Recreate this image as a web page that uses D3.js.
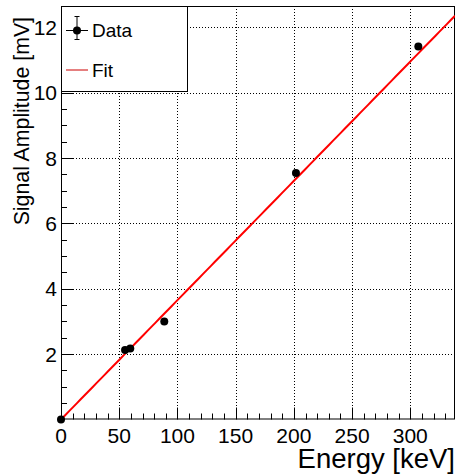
<!DOCTYPE html>
<html>
<head>
<meta charset="utf-8">
<script src="https://cdn.jsdelivr.net/npm/d3@7"></script>
<style>
  html, body { margin: 0; padding: 0; background: #fff; }
  svg { display: block; font-family: "Liberation Sans", Arial, Helvetica, sans-serif; }
</style>
</head>
<body>
<svg id="chart" width="462" height="475"></svg>
<script>
// ---- data ----
const energies = [0, 55, 59.5, 88.7, 201.8, 306.9];        // keV
const amplitudes = [0.0, 2.13, 2.17, 3.0, 7.54, 11.41];   // mV
const amplitudeErrors = [0.03, 0.05, 0.05, 0.09, 0.05, 0.05];
const fitParams = [0.0, 0.0365];                          // intercept, slope
const xTickValues = [0, 50, 100, 150, 200, 250, 300];
const yTickValues = [2, 4, 6, 8, 10, 12];
const xDomain = [0, 338.4];
const yDomain = [0, 12.65];
const legendLabels = ["Data", "Fit"];

// ---- layout ----
const svg = d3.select("#chart");
const L = 61, R = 455, T = 6, B = 419.5;
const x = d3.scaleLinear().domain(xDomain).range([L, R]);
const y = d3.scaleLinear().domain(yDomain).range([B, T]);

// grid
const grid = svg.append("g").attr("stroke", "#000").attr("stroke-width", 1)
  .attr("stroke-dasharray", "1,2");
grid.selectAll(".gx").data(xTickValues.filter(v => v > xDomain[0]))
  .enter().append("line")
  .attr("x1", d => Math.round(x(d)) + 0.5).attr("x2", d => Math.round(x(d)) + 0.5)
  .attr("y1", T).attr("y2", B);
grid.selectAll(".gy").data(yTickValues)
  .enter().append("line")
  .attr("y1", d => Math.round(y(d)) + 0.5).attr("y2", d => Math.round(y(d)) + 0.5)
  .attr("x1", L).attr("x2", R);

// frame
svg.append("rect").attr("x", L + 0.5).attr("y", T + 0.5)
  .attr("width", R - L - 1).attr("height", B - T - 1)
  .attr("fill", "none").attr("stroke", "#000").attr("stroke-width", 1);

// x axis ticks
const xMinor = d3.range(xDomain[0], xDomain[1], 10);
svg.append("g").selectAll("line").data(xMinor).enter().append("line")
  .attr("x1", d => Math.round(x(d)) + 0.5).attr("x2", d => Math.round(x(d)) + 0.5)
  .attr("y1", B).attr("y2", d => B - (d % 50 === 0 ? 12 : 6))
  .attr("stroke", "#000").attr("stroke-width", 1);
svg.append("g").selectAll("text").data(xTickValues).enter().append("text")
  .attr("x", d => x(d)).attr("y", 443)
  .attr("text-anchor", "middle").attr("font-size", 21).text(d => d);

// y axis ticks
const yMinor = d3.range(0.5, yDomain[1], 0.5);
svg.append("g").selectAll("line").data(yMinor).enter().append("line")
  .attr("y1", d => Math.round(y(d)) + 0.5).attr("y2", d => Math.round(y(d)) + 0.5)
  .attr("x1", L).attr("x2", d => L + (d % 2 === 0 ? 12 : 6))
  .attr("stroke", "#000").attr("stroke-width", 1);
svg.append("g").selectAll("text").data(yTickValues).enter().append("text")
  .attr("x", 57).attr("y", d => y(d)).attr("dy", "0.36em")
  .attr("text-anchor", "end").attr("font-size", 21).text(d => d);

// axis titles
svg.append("text").attr("x", R).attr("y", 468).attr("text-anchor", "end")
  .attr("font-size", 27.5).text("Energy [keV]");
svg.append("text").attr("transform", "translate(28.5,17) rotate(-90)")
  .attr("text-anchor", "end").attr("font-size", 21.3).text("Signal Amplitude [mV]");

// fit line
const fitX = d3.range(0, 101).map(i => xDomain[0] + (xDomain[1] - xDomain[0]) * i / 100);
const fitLine = d3.line().x(d => x(d)).y(d => y(fitParams[0] + fitParams[1] * d));
svg.append("clipPath").attr("id", "clipFrame").append("rect")
  .attr("x", L).attr("y", T).attr("width", R - L).attr("height", B - T);
svg.append("path").datum(fitX).attr("d", fitLine)
  .attr("clip-path", "url(#clipFrame)")
  .attr("fill", "none").attr("stroke", "#ff0000").attr("stroke-width", 2);

// data points
const pts = energies.map((e, i) => ({ e, a: amplitudes[i], err: amplitudeErrors[i] }));
const pg = svg.append("g");
pg.selectAll("line").data(pts).enter().append("line")
  .attr("x1", d => x(d.e)).attr("x2", d => x(d.e))
  .attr("y1", d => y(d.a - d.err)).attr("y2", d => y(d.a + d.err))
  .attr("stroke", "#000").attr("stroke-width", 1);
pg.selectAll("circle").data(pts).enter().append("circle")
  .attr("cx", d => x(d.e)).attr("cy", d => y(d.a)).attr("r", 4)
  .attr("fill", "#000");

// legend
const lg = svg.append("g");
lg.append("rect").attr("x", L + 0.5).attr("y", T + 0.5).attr("width", 126).attr("height", 85)
  .attr("fill", "#fff").attr("stroke", "#000").attr("stroke-width", 1);
// data entry
lg.append("line").attr("x1", 66).attr("x2", 88).attr("y1", 30.5).attr("y2", 30.5)
  .attr("stroke", "#000").attr("stroke-width", 1);
lg.append("line").attr("x1", 77).attr("x2", 77).attr("y1", 16).attr("y2", 40)
  .attr("stroke", "#000").attr("stroke-width", 1);
lg.append("line").attr("x1", 74.5).attr("x2", 79.5).attr("y1", 16.5).attr("y2", 16.5)
  .attr("stroke", "#000").attr("stroke-width", 1);
lg.append("line").attr("x1", 74.5).attr("x2", 79.5).attr("y1", 39.5).attr("y2", 39.5)
  .attr("stroke", "#000").attr("stroke-width", 1);
lg.append("circle").attr("cx", 77).attr("cy", 30.5).attr("r", 4).attr("fill", "#000");
lg.append("text").attr("x", 92).attr("y", 37).attr("font-size", 19).text(legendLabels[0]);
// fit entry
lg.append("line").attr("x1", 66).attr("x2", 88).attr("y1", 70).attr("y2", 70)
  .attr("stroke", "#cc0000").attr("stroke-width", 1);
lg.append("text").attr("x", 92).attr("y", 76.5).attr("font-size", 19).text(legendLabels[1]);
</script>
</body>
</html>
